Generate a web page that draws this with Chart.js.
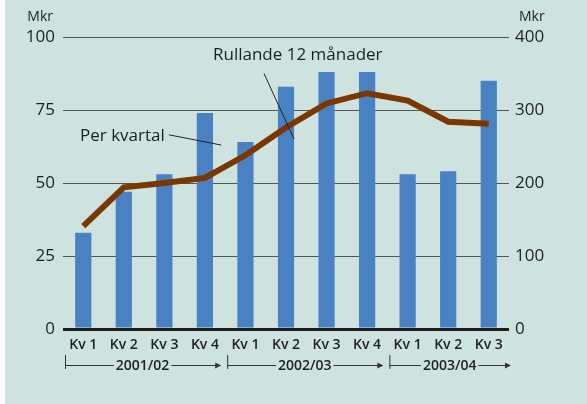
<!DOCTYPE html>
<html>
<head>
<meta charset="utf-8">
<script src="https://cdn.jsdelivr.net/npm/chart.js@4/dist/chart.umd.min.js"></script>
<style>
  html, body { margin: 0; padding: 0; background: #fff; }
  #wrap { width: 587px; height: 404px; }
</style>
</head>
<body>
<div id="wrap"><canvas id="chart" width="587" height="404"></canvas></div>
<script>
// quarters and values
const quarters = ['Kv 1', 'Kv 2', 'Kv 3', 'Kv 4', 'Kv 1', 'Kv 2', 'Kv 3', 'Kv 4', 'Kv 1', 'Kv 2', 'Kv 3'];
const perQuarter = [33, 47, 53, 74, 64, 83, 88, 88, 53, 54, 85];           // left axis, Mkr
const rolling12 = [141, 194, 200, 207, 238, 276, 309, 323, 313, 284, 281];  // right axis, Mkr
const yearLabels = ['2001/02', '2002/03', '2003/04'];
const yearStart = [0, 4, 8];
const leftTicks = [0, 25, 50, 75, 100];
const rightTicks = [0, 100, 200, 300, 400];

const FONT = '"Open Sans", "DejaVu Sans", sans-serif';
const TEXT = '#1f1f1f';

// background panel, year brackets and the two text labels
const extras = {
  id: 'extras',
  beforeDraw(chart) {
    const ctx = chart.ctx;
    ctx.save();
    ctx.fillStyle = '#cee3e0';
    ctx.fillRect(5, 0, chart.width - 5, chart.height);
    ctx.restore();
  },
  afterDraw(chart) {
    const ctx = chart.ctx;
    const x = chart.scales.x;
    const y = chart.scales.y;
    const step = x.getPixelForValue(1) - x.getPixelForValue(0);
    ctx.save();

    // "Mkr" unit labels
    ctx.fillStyle = TEXT;
    ctx.font = '14px ' + FONT;
    ctx.textBaseline = 'middle';
    ctx.textAlign = 'right';
    ctx.fillText('Mkr', 53, 17);
    ctx.textAlign = 'left';
    ctx.fillText('Mkr', 519, 17);

    // year brackets under the quarter labels
    const by = 365;
    ctx.strokeStyle = '#333';
    ctx.lineWidth = 1;
    ctx.font = '600 14px ' + FONT;
    ctx.textAlign = 'center';
    yearLabels.forEach((lab, i) => {
      const s = yearStart[i];
      const e = i + 1 < yearStart.length ? yearStart[i + 1] : quarters.length;
      const x0 = x.getPixelForValue(s) - step / 2 + 2;
      const x1 = i + 1 < yearStart.length ? x.getPixelForValue(e) - step / 2 - 5 : x.getPixelForValue(e - 1) + step / 2 + 1;
      const cx = (x0 + x1) / 2;
      const tw = ctx.measureText(lab).width + 4;
      ctx.beginPath();
      ctx.moveTo(x0 + 0.5, by - 10);
      ctx.lineTo(x0 + 0.5, by + 4);
      ctx.moveTo(x0, by + 0.5);
      ctx.lineTo(cx - tw / 2, by + 0.5);
      ctx.moveTo(cx + tw / 2, by + 0.5);
      ctx.lineTo(x1, by + 0.5);
      ctx.stroke();
      ctx.beginPath();
      ctx.moveTo(x1 + 1, by + 0.5);
      ctx.lineTo(x1 - 5, by - 2.5);
      ctx.lineTo(x1 - 5, by + 3.5);
      ctx.closePath();
      ctx.fillStyle = '#333';
      ctx.fill();
      ctx.fillStyle = TEXT;
      ctx.fillText(lab, cx, by + 1);
    });

    // series labels with leader lines
    ctx.font = '17px ' + FONT;
    ctx.textAlign = 'left';
    ctx.fillText('Per kvartal', 80, 136);
    ctx.fillText('Rullande 12 månader', 213, 55);
    ctx.strokeStyle = '#222';
    ctx.beginPath();
    ctx.moveTo(169, y.getPixelForValue(66.5));
    ctx.lineTo(x.getPixelForValue(3.4), y.getPixelForValue(63));
    ctx.moveTo(264, y.getPixelForValue(87.5));
    ctx.lineTo(x.getPixelForValue(5.2), y.getPixelForValue(65));
    ctx.stroke();
    ctx.restore();
  }
};

new Chart(document.getElementById('chart'), {
  data: {
    labels: quarters,
    datasets: [
      {
        type: 'line',
        label: 'Rullande 12 månader',
        data: rolling12,
        yAxisID: 'y1',
        borderColor: '#7a3800',
        borderWidth: 6,
        pointRadius: 0,
        tension: 0,
        order: 0
      },
      {
        type: 'bar',
        label: 'Per kvartal',
        data: perQuarter,
        yAxisID: 'y',
        backgroundColor: '#4a81c3',
        categoryPercentage: 1,
        barPercentage: 0.4,
        order: 1
      }
    ]
  },
  options: {
    responsive: false,
    animation: false,
    layout: { padding: { top: 37, left: 0, right: 0, bottom: 0 } },
    plugins: { legend: { display: false }, tooltip: { enabled: false } },
    scales: {
      x: {
        grid: { display: false },
        border: { display: false },
        ticks: { color: TEXT, font: { family: FONT, size: 14, weight: '600' }, padding: 0 },
        afterFit(s) { s.height = 75; }
      },
      y: {
        position: 'left',
        min: 0,
        max: 100,
        afterBuildTicks(s) { s.ticks = leftTicks.map(v => ({ value: v })); },
        border: { display: false },
        grid: {
          drawTicks: false,
          color: ctx => ctx.tick.value === 0 ? '#1e1e1e' : '#555',
          lineWidth: ctx => ctx.tick.value === 0 ? 3 : 1
        },
        ticks: { color: TEXT, font: { family: FONT, size: 17 }, padding: 8 },
        afterFit(s) { s.width = 63; }
      },
      y1: {
        position: 'right',
        min: 0,
        max: 400,
        afterBuildTicks(s) { s.ticks = rightTicks.map(v => ({ value: v })); },
        border: { display: false },
        grid: { display: false, drawTicks: false },
        ticks: { color: TEXT, font: { family: FONT, size: 17 }, padding: 6 },
        afterFit(s) { s.width = 78; }
      }
    }
  },
  plugins: [extras]
});
</script>
</body>
</html>
